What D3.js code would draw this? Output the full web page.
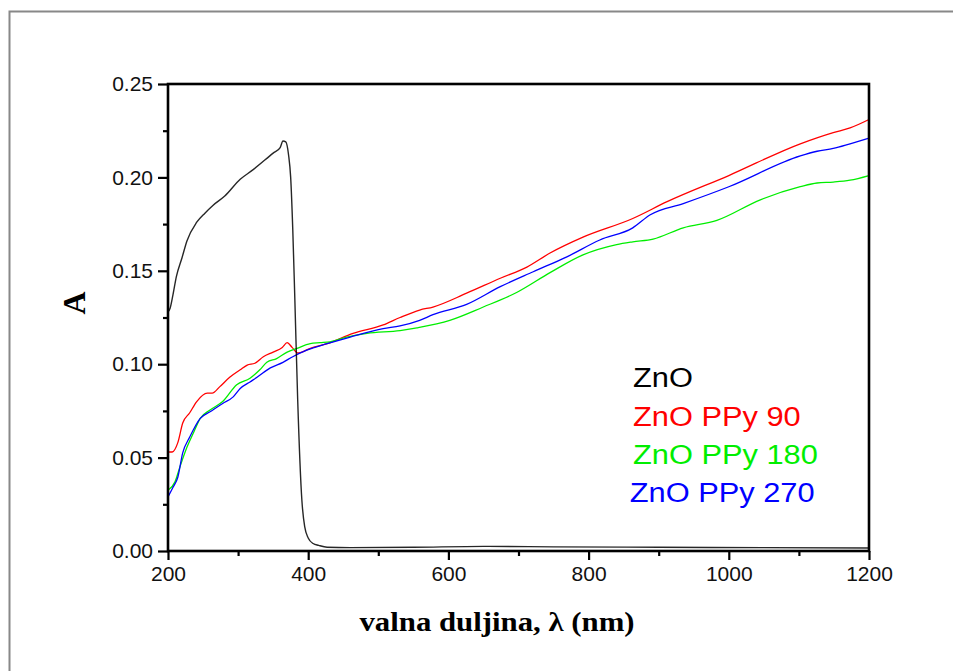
<!DOCTYPE html>
<html>
<head>
<meta charset="utf-8">
<script src="https://cdn.jsdelivr.net/npm/d3@7"></script>
<style>
  body { margin: 0; background: #fff; }
  svg { display: block; }
  .tick-label { font-family: "Liberation Sans", Arial, sans-serif; font-size: 21px; fill: #111; }
  .axis-title { font-family: "Liberation Serif", "Times New Roman", serif; font-weight: bold; font-size: 28px; fill: #000; }
  .legend-text { font-family: "Liberation Sans", Arial, sans-serif; font-size: 28px; }
</style>
</head>
<body>
<div id="chart"></div>
<script>

// values (wavelength in nm, absorbance A)
var zno_nm = [200, 203, 207, 212, 220, 227, 241, 253, 264, 281, 303, 321, 350, 360, 364, 368, 372, 375, 378, 381, 385, 391, 395, 400, 407, 415, 427, 460, 550, 650, 750, 900, 1050, 1200];
var zno_a = [0.128, 0.130, 0.137, 0.147, 0.157, 0.166, 0.176, 0.181, 0.185, 0.190, 0.199, 0.204, 0.213, 0.216, 0.2195, 0.219, 0.212, 0.200, 0.172, 0.134, 0.081, 0.027, 0.013, 0.007, 0.004, 0.003, 0.002, 0.0018, 0.002, 0.0025, 0.0022, 0.002, 0.0018, 0.0016];

var ppy90_nm = [200, 206, 214, 221, 231, 241, 256, 263, 274, 288, 303, 313, 324, 336, 350, 363, 370, 377, 385, 403, 427, 464, 507, 531, 559, 578, 626, 674, 712, 745, 792, 863, 912, 1000, 1102, 1149, 1173, 1200];
var ppy90_a = [0.053, 0.053, 0.058, 0.0685, 0.074, 0.080, 0.0845, 0.0845, 0.088, 0.093, 0.097, 0.0995, 0.1005, 0.104, 0.1065, 0.109, 0.1115, 0.109, 0.106, 0.1085, 0.111, 0.1165, 0.121, 0.125, 0.129, 0.1306, 0.138, 0.146, 0.152, 0.1595, 0.168, 0.178, 0.187, 0.201, 0.218, 0.224, 0.2265, 0.231];

var ppy180_nm = [200, 210, 217, 227, 236, 246, 260, 278, 298, 317, 331, 341, 355, 370, 384, 403, 417, 431, 455, 484, 531, 555, 602, 649, 698, 745, 792, 840, 863, 892, 935, 983, 1045, 1102, 1126, 1149, 1173, 1200];
var ppy180_a = [0.0325, 0.037, 0.045, 0.0555, 0.063, 0.071, 0.0755, 0.080, 0.089, 0.0925, 0.097, 0.101, 0.103, 0.1065, 0.1085, 0.111, 0.1115, 0.112, 0.1145, 0.1165, 0.118, 0.1195, 0.1235, 0.1305, 0.1385, 0.149, 0.1585, 0.164, 0.1655, 0.167, 0.173, 0.177, 0.188, 0.195, 0.197, 0.1975, 0.1985, 0.201];

var ppy270_nm = [200, 207, 214, 221, 231, 246, 260, 278, 293, 303, 317, 327, 346, 364, 378, 398, 427, 460, 507, 531, 559, 578, 626, 674, 721, 769, 816, 863, 888, 935, 1000, 1102, 1126, 1149, 1173, 1200];
var ppy270_a = [0.029, 0.034, 0.0395, 0.0525, 0.061, 0.071, 0.0745, 0.079, 0.0825, 0.087, 0.0905, 0.093, 0.098, 0.101, 0.104, 0.1075, 0.111, 0.1145, 0.119, 0.1205, 0.1235, 0.1265, 0.132, 0.1415, 0.1495, 0.1575, 0.1665, 0.173, 0.180, 0.186, 0.195, 0.2115, 0.214, 0.2155, 0.218, 0.221];

var series_names = ["ZnO", "ZnO PPy 90", "ZnO PPy 180", "ZnO PPy 270"];
var series_colors = ["#000000", "#ff0000", "#00ee00", "#0000ff"];

var x_ticks = [200, 400, 600, 800, 1000, 1200];
var x_minor = [300, 500, 700, 900, 1100];
var y_ticks = [0, 0.05, 0.10, 0.15, 0.20, 0.25];
var y_minor = [0.025, 0.075, 0.125, 0.175, 0.225];

var width = 953, height = 671;

var svg = d3.select("#chart").append("svg")
  .attr("width", width)
  .attr("height", height);

//outer frame, runs off the right and bottom
svg.append("rect")
  .attr("x", 9.5).attr("y", 11.5)
  .attr("width", 1000).attr("height", 1000)
  .attr("fill", "none")
  .attr("stroke", "#888")
  .attr("stroke-width", 2);

var x = d3.scaleLinear().domain([200, 1200]).range([168, 869]);
var y = d3.scaleLinear().domain([0, 0.25]).range([551, 84]);

//curves
var line = d3.line()
  .x(function(d) { return x(d[0]); })
  .y(function(d) { return y(d[1]); })
  .curve(d3.curveMonotoneX);

var all_series = [
  d3.zip(zno_nm, zno_a),
  d3.zip(ppy90_nm, ppy90_a),
  d3.zip(ppy180_nm, ppy180_a),
  d3.zip(ppy270_nm, ppy270_a)
];

// draw the zno curve last so it sits on top at the crossing
[1, 2, 3, 0].forEach(function(i) {
  svg.append("path")
    .datum(all_series[i])
    .attr("d", line)
    .attr("fill", "none")
    .attr("stroke", series_colors[i])
    .attr("stroke-width", i === 0 ? 1.4 : 1.3)
    .attr("stroke-opacity", i === 0 ? 0.85 : 1);
});

//axes
var bottom_axis = d3.axisBottom(x).tickValues(x_ticks).tickSize(9).tickSizeOuter(0).tickPadding(6)
  .tickFormat(d3.format("d"));
var left_axis = d3.axisLeft(y).tickValues(y_ticks).tickSize(10).tickSizeOuter(0).tickPadding(5)
  .tickFormat(d3.format(".2f"));

var gx = svg.append("g").attr("transform", "translate(0,551)").call(bottom_axis);
var gy = svg.append("g").attr("transform", "translate(168,0)").call(left_axis);

[gx, gy].forEach(function(g) {
  g.select(".domain").remove();
  g.selectAll(".tick line").attr("stroke", "#000").attr("stroke-width", 2.2);
  g.selectAll(".tick text").attr("class", "tick-label").attr("fill", null);
});

var gx_minor = svg.append("g").attr("transform", "translate(0,551)")
  .call(d3.axisBottom(x).tickValues(x_minor).tickSize(5).tickFormat(""));
var gy_minor = svg.append("g").attr("transform", "translate(168,0)")
  .call(d3.axisLeft(y).tickValues(y_minor).tickSize(5).tickFormat(""));
[gx_minor, gy_minor].forEach(function(g) {
  g.select(".domain").remove();
  g.selectAll(".tick line").attr("stroke", "#000").attr("stroke-width", 2.2);
});

//frame of the plot area
svg.append("rect")
  .attr("x", x(200)).attr("y", y(0.25))
  .attr("width", x(1200) - x(200))
  .attr("height", y(0) - y(0.25))
  .attr("fill", "none")
  .attr("stroke", "#000")
  .attr("stroke-width", 2.6);

//axis titles
svg.append("text").attr("class", "axis-title")
  .attr("transform", "translate(497,631) scale(1.1,1)")
  .style("text-anchor", "middle")
  .text("valna duljina, \u03bb (nm)");

svg.append("text").attr("class", "axis-title")
  .attr("transform", "translate(85,303) rotate(-90)")
  .style("text-anchor", "middle")
  .style("font-size", "32px")
  .text("A");

//legend
var legend = svg.append("g").attr("transform", "translate(633,0) scale(1.1,1)");
var legend_y = [387, 426, 464, 502];
legend.selectAll("text")
  .data(series_names)
  .enter().append("text")
  .attr("class", "legend-text")
  .attr("x", function(d, i) { return i === 3 ? -3 : 0; })
  .attr("y", function(d, i) { return legend_y[i]; })
  .attr("fill", function(d, i) { return series_colors[i]; })
  .text(function(d) { return d; });

</script>
</body>
</html>
